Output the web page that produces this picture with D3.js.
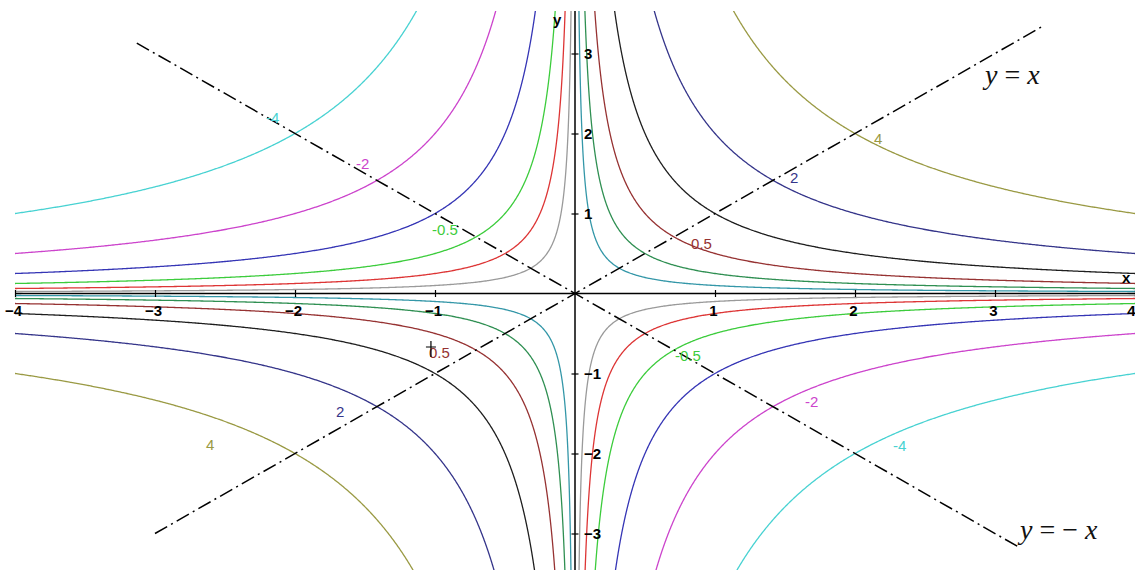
<!DOCTYPE html>
<html>
<head>
<meta charset="utf-8">
<script src="https://cdn.jsdelivr.net/npm/d3@7"></script>
<style>
  body { margin: 0; background: #fff; }
  svg { display: block; }
</style>
</head>
<body>
<svg id="chart" width="1135" height="570"></svg>
<script>
// Level curves of z = x·y
const levelsNeg = [-4, -2, -1, -0.5, -0.25, -0.1];
const levelsPos = [0.1, 0.25, 0.5, 1, 2, 4];
const colorsNeg = ["#48d2d2", "#cc44cc", "#3535b5", "#3ccc3c", "#dd3535", "#9a9a9a"];
const colorsPos = ["#3497a8", "#2f8f52", "#963232", "#1e1e1e", "#35358a", "#9a9a44"];

// Axis ticks
const xTicks = [-4, -3, -2, -1, 1, 2, 3, 4];
const yTicks = [-3, -2, -1, 1, 2, 3];

// Inline level labels (value shown on the curve)
const labelLevels = [-4, -2, -0.5, 0.5, 2, 4, 0.5, 2, 4, -0.5, -2, -4];
const labelTexts  = ["-4", "-2", "-0.5", "0.5", "2", "4", "0.5", "2", "4", "-0.5", "-2", "-4"];

// Label anchor points in (x, y) plot units
const labelSpots = [
  [-2.207, 2.131], [-1.564, 1.556], [-1.021, 0.731], [0.829, 0.556],
  [1.536, 1.381], [2.136, 1.869], [-1.043, -0.806], [-1.707, -1.544],
  [-2.636, -1.956], [0.714, -0.844], [1.643, -1.419], [2.271, -1.969]
];

// Reference diagonals y = x and y = -x (segment ends, plot units)
const diagPlus  = [[-3.0, -3.0], [3.33, 3.33]];
const diagMinus = [[-3.13, 3.13], [3.18, -3.18]];

const svg = d3.select("#chart");

const x = d3.scaleLinear().domain([-4, 4]).range([15, 1135]);
const y = d3.scaleLinear().domain([-3.5, 3.5]).range([573.5, 13.5]);

// Plot window
const clipTop = 11, clipBottom = 570;
svg.append("defs").append("clipPath").attr("id", "plot-clip")
  .append("rect")
  .attr("x", x(-4)).attr("y", clipTop)
  .attr("width", x(4) - x(-4)).attr("height", clipBottom - clipTop);

// Sample z = x*y on a grid slightly larger than the window
const step = 0.01, gx0 = -4.3, gy0 = -3.9;
const nx = Math.round(8.6 / step) + 1;
const ny = Math.round(7.8 / step) + 1;
const grid = new Float64Array(nx * ny);
for (let j = 0; j < ny; j++) {
  const gy = gy0 + j * step;
  for (let i = 0; i < nx; i++) grid[j * nx + i] = (gx0 + i * step) * gy;
}

const levels = levelsNeg.concat(levelsPos);
const colors = colorsNeg.concat(colorsPos);
const colorOf = d3.scaleOrdinal().domain(levels).range(colors);

const contours = d3.contours().size([nx, ny]).thresholds(levels)(grid);

const toScreen = d3.geoTransform({
  point(px, py) {
    this.stream.point(x(gx0 + (px - 0.5) * step), y(gy0 + (py - 0.5) * step));
  }
});
const path = d3.geoPath(toScreen);

const plot = svg.append("g").attr("clip-path", "url(#plot-clip)");

plot.selectAll("path.level")
  .data(contours)
  .join("path")
  .attr("class", "level")
  .attr("d", path)
  .attr("fill", "none")
  .attr("stroke", d => colorOf(d.value))
  .attr("stroke-width", 1.3)
  .attr("stroke-linejoin", "round");

// Axes
const tickFont = "'Liberation Sans', Arial, sans-serif";

const gx = svg.append("g").attr("transform", `translate(0,${y(0)})`)
  .call(d3.axisBottom(x).tickValues(xTicks).tickSize(0).tickFormat(d3.format("d")));
gx.select(".domain").attr("d", `M${x(-4)},0H${x(4)}`).attr("stroke", "#000").attr("stroke-width", 1.5);
gx.selectAll(".tick line").attr("y1", -3.5).attr("y2", 3.5).attr("stroke", "#000").attr("stroke-width", 1.2);
gx.selectAll(".tick text")
  .attr("y", 22).attr("x", -2).attr("dy", 0)
  .attr("fill", "#000")
  .style("font", `bold 15px ${tickFont}`);
// keep the last label inside the right edge
gx.selectAll(".tick text").filter(d => d === 4)
  .attr("text-anchor", "end").attr("x", 0);

const gy = svg.append("g").attr("transform", `translate(${x(0)},0)`)
  .call(d3.axisRight(y).tickValues(yTicks).tickSize(0).tickFormat(d3.format("d")));
gy.select(".domain").attr("d", `M0,${clipTop}V${clipBottom}`).attr("stroke", "#000").attr("stroke-width", 1.5);
gy.selectAll(".tick line").attr("x1", -3.5).attr("x2", 3.5).attr("stroke", "#000").attr("stroke-width", 1.2);
gy.selectAll(".tick text")
  .attr("x", 9).attr("y", 5).attr("dy", 0)
  .attr("text-anchor", "start")
  .attr("fill", "#000")
  .style("font", `bold 15px ${tickFont}`);

svg.append("text").attr("x", x(4) - 13).attr("y", y(0) - 11)
  .style("font", `bold 15px ${tickFont}`).text("x");
svg.append("text").attr("x", x(0) - 22).attr("y", 25)
  .style("font", `bold 15px ${tickFont}`).text("y");

// Diagonals
const line = d3.line().x(d => x(d[0])).y(d => y(d[1]));
[diagPlus, diagMinus].forEach(seg => {
  svg.append("path")
    .attr("d", line(seg))
    .attr("fill", "none")
    .attr("stroke", "#000")
    .attr("stroke-width", 1.5)
    .attr("stroke-dasharray", "14,4.5,2,4.5");
});

// Level labels
svg.selectAll("text.lvl")
  .data(labelTexts)
  .join("text")
  .attr("class", "lvl")
  .attr("x", (d, i) => x(labelSpots[i][0]))
  .attr("y", (d, i) => y(labelSpots[i][1]))
  .attr("fill", (d, i) => colorOf(labelLevels[i]))
  .style("font", `15px ${tickFont}`)
  .text(d => d);

// small cross marker by the lower-left 0.5 label
const cx = x(-1.029), cy = y(-0.694);
svg.append("path")
  .attr("d", `M${cx},${cy - 8}V${cy + 8}M${cx - 5},${cy - 2}H${cx + 5}`)
  .attr("stroke", "#000").attr("stroke-width", 1.2);

// Equation captions
const serif = "'Liberation Serif', 'Times New Roman', serif";
const eq1 = svg.append("text").attr("x", 985).attr("y", 84)
  .style("font-family", serif).style("font-size", "28px").attr("fill", "#111");
eq1.append("tspan").style("font-style", "italic").text("y");
eq1.append("tspan").text(" = ");
eq1.append("tspan").style("font-style", "italic").text("x");

const eq2 = svg.append("text").attr("x", 1020).attr("y", 539)
  .style("font-family", serif).style("font-size", "28px").attr("fill", "#111");
eq2.append("tspan").style("font-style", "italic").text("y");
eq2.append("tspan").text(" = \u2212 ");
eq2.append("tspan").style("font-style", "italic").text("x");
</script>
</body>
</html>
